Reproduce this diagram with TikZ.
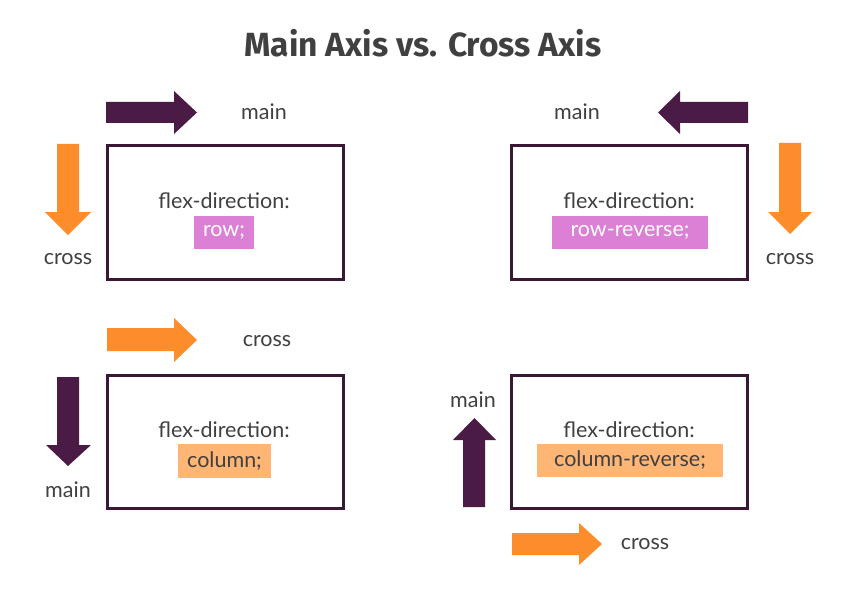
\documentclass[tikz,border=0pt]{standalone}
\usepackage{fontspec}
\setmainfont{Lato}
\newfontfamily\titlefont{Fira Sans}
\definecolor{plum}{HTML}{4A1B45}
\definecolor{boxline}{HTML}{3A1734}
\definecolor{orng}{HTML}{FD8D2B}
\definecolor{pinkhl}{HTML}{DC80D6}
\definecolor{orghl}{HTML}{FFB574}
\definecolor{txt}{HTML}{404040}
\begin{document}
\begin{tikzpicture}[x=1pt,y=-1pt,
  flexbox/.style={draw=boxline,line width=3pt},
  purplearrow/.style={fill=plum,draw=none},
  orangearrow/.style={fill=orng,draw=none},
  lbl/.style={text=txt,font=\fontsize{21.5}{25}\selectfont,inner sep=0pt}
]
\useasboundingbox (0,0) rectangle (846,591);
\fill[white] (0,0) rectangle (846,591);

% title
\node[text=txt,font=\titlefont\bfseries\fontsize{33.5}{38}\selectfont] (title) at (423,43) {Main Axis vs. Cross Axis};

% boxes
\draw[flexbox] (107,146) rectangle (343,279);
\draw[flexbox] (511,146) rectangle (747,279);
\draw[flexbox] (107,375) rectangle (343,508);
\draw[flexbox] (511,375) rectangle (747,508);

% highlights
\fill[pinkhl] (194,216) rectangle (254,249);
\fill[pinkhl] (552,216) rectangle (708,249);
\fill[orghl] (178,444) rectangle (271,478);
\fill[orghl] (537,444) rectangle (723,477);

% texts in boxes
\node[lbl] (fd1) at (224,201) {flex-direction:};
\node[lbl,text=white] (v1) at (224,232) {row;};
\node[lbl] (fd2) at (629,201) {flex-direction:};
\node[lbl,text=white] (v2) at (630,232) {row-reverse;};
\node[lbl] (fd3) at (224,430) {flex-direction:};
\node[lbl] (v3) at (224.5,461) {column;};
\node[lbl] (fd4) at (629,430) {flex-direction:};
\node[lbl] (v4) at (630,460.5) {column-reverse;};

% arrows
% 1: right, purple
\fill[purplearrow] (106,102) -- (174,102) -- (174,91) -- (197,112.5) -- (174,134) -- (174,123) -- (106,123) -- cycle;
% 2: left, purple
\fill[purplearrow] (748,102) -- (680,102) -- (680,91) -- (658,112.5) -- (680,134) -- (680,123) -- (748,123) -- cycle;
% 3: down, orange (left of box1)
\fill[orangearrow] (57,144) -- (79,144) -- (79,212) -- (91,212) -- (68,235) -- (45,212) -- (57,212) -- cycle;
% 4: down, orange (right of box2)
\fill[orangearrow] (779,143) -- (801,143) -- (801,212) -- (812,212) -- (790,234) -- (768,212) -- (779,212) -- cycle;
% 5: right, orange (above box3)
\fill[orangearrow] (107,328) -- (174,328) -- (174,318) -- (197,340) -- (174,362) -- (174,351) -- (107,351) -- cycle;
% 6: down, purple (left of box3)
\fill[purplearrow] (57,377) -- (79,377) -- (79,445) -- (91,445) -- (68,466) -- (46,445) -- (57,445) -- cycle;
% 7: up, purple (left of box4)
\fill[purplearrow] (463,507) -- (485,507) -- (485,440) -- (496,440) -- (474.5,418) -- (453,440) -- (463,440) -- cycle;
% 8: right, orange (below box4)
\fill[orangearrow] (512,533) -- (579,533) -- (579,523) -- (602,544) -- (579,565) -- (579,555) -- (512,555) -- cycle;

% axis labels
\node[lbl] (l1) at (264,112) {main};
\node[lbl] (l2) at (577,112) {main};
\node[lbl] (l3) at (68,259) {cross};
\node[lbl] (l4) at (790,259) {cross};
\node[lbl] (l5) at (267,341) {cross};
\node[lbl] (l6) at (68,490) {main};
\node[lbl] (l7) at (473,400) {main};
\node[lbl] (l8) at (645,544) {cross};
\end{tikzpicture}
\end{document}
